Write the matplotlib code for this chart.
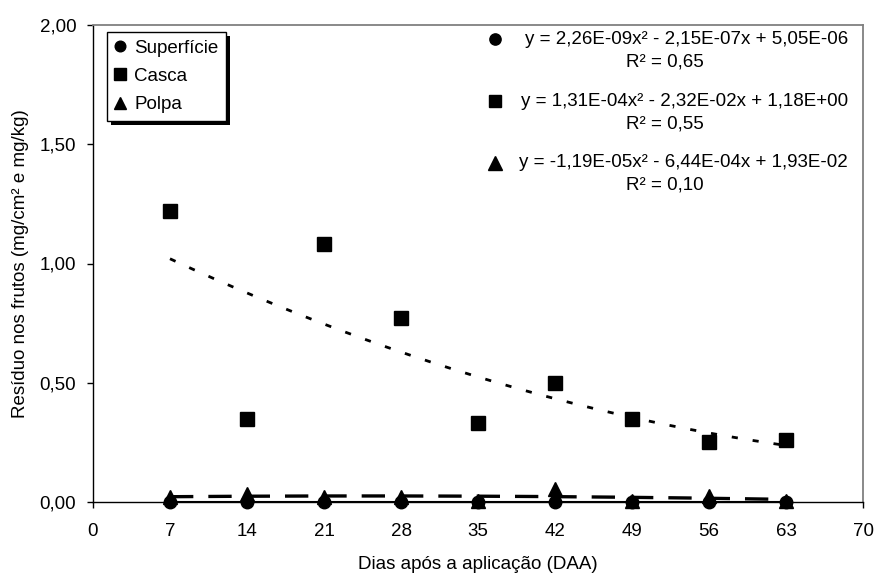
import numpy as np
import matplotlib
matplotlib.use('Agg')
import matplotlib.pyplot as plt
from matplotlib.lines import Line2D
import matplotlib.patheffects as pe

# ---- data ----
dias = [7, 14, 21, 28, 35, 42, 49, 56, 63]
superficie = [0.0, 0.0, 0.0, 0.0, 0.0, 0.0, 0.0, 0.0, 0.0]
casca = [1.22, 0.35, 1.08, 0.77, 0.33, 0.50, 0.35, 0.25, 0.26]
polpa = [0.02, 0.035, 0.02, 0.02, 0.005, 0.055, 0.005, 0.025, 0.005]
series_names = ['Superfície', 'Casca', 'Polpa']
equations = ['y = 2,26E-09x² - 2,15E-07x + 5,05E-06',
             'y = 1,31E-04x² - 2,32E-02x + 1,18E+00',
             'y = -1,19E-05x² - 6,44E-04x + 1,93E-02']
r2_labels = ['R² = 0,65', 'R² = 0,55', 'R² = 0,10']
xticks = [0, 7, 14, 21, 28, 35, 42, 49, 56, 63, 70]
yticks = [0.0, 0.5, 1.0, 1.5, 2.0]
ytick_labels = ['0,00', '0,50', '1,00', '1,50', '2,00']
xlabel = 'Dias após a aplicação (DAA)'
ylabel = 'Resíduo nos frutos (mg/cm² e mg/kg)'

plt.rcParams['font.family'] = ['Liberation Sans', 'DejaVu Sans']
FS = 13.5

W, H = 874, 575
fig = plt.figure(figsize=(W / 100, H / 100), dpi=100)
L, R, T, B = 93, 863, 25, 502
ax = fig.add_axes([L / W, 1 - B / H, (R - L) / W, (B - T) / H])

markers = ['o', 's', '^']
msizes = [9, 10, 10.5]
styles = [dict(ls='-', lw=1.5),
          dict(ls=(0, (2.2, 5.4)), lw=2.0),
          dict(ls=(0, (7, 4.5)), lw=2.4)]
data = [superficie, casca, polpa]

xs = np.array(dias, dtype=float)
xf = np.linspace(xs.min(), xs.max(), 200)
for vals, st in zip(data, styles):
    ys = np.array(vals, dtype=float)
    coef = np.polyfit(xs, ys, 2)
    ax.plot(xf, np.polyval(coef, xf), color='black', zorder=2, **st)
for vals, m, ms in zip(data, markers, msizes):
    ax.plot(dias, vals, linestyle='none', marker=m, markersize=ms,
            color='black', clip_on=False, zorder=3)

ax.set_xlim(0, 70)
ax.set_ylim(0, 2)
ax.set_xticks(xticks)
ax.set_yticks(yticks)
ax.set_yticklabels(ytick_labels)
ax.tick_params(axis='both', direction='out', length=4, width=1,
               labelsize=FS, color='black')
ax.tick_params(axis='x', pad=11)
ax.tick_params(axis='y', pad=8)
for s in ['left', 'bottom']:
    ax.spines[s].set_color('black')
    ax.spines[s].set_linewidth(1)
for s in ['top', 'right']:
    ax.spines[s].set_color('#808080')
    ax.spines[s].set_linewidth(1.3)

ax.set_xlabel(xlabel, fontsize=FS)
ax.xaxis.set_label_coords(0.5, -(556 - B) / (B - T))
ax.set_ylabel(ylabel, fontsize=FS)
ax.yaxis.label.set_va('center')
ax.yaxis.set_label_coords(-(L - 21) / (R - L), 0.5)

# legend 1 (series)
handles = [Line2D([], [], linestyle='none', marker=m, markersize=ms * 0.85, color='black')
           for m, ms in zip(markers, msizes)]
leg1 = ax.legend(handles, series_names, loc='upper left',
                 bbox_to_anchor=((107 - L) / (R - L), 1 - (32 - T) / (B - T)),
                 borderaxespad=0, borderpad=0.4, handlelength=0.6,
                 handletextpad=0.45, labelspacing=0.6, fontsize=FS,
                 fancybox=False, edgecolor='black', framealpha=1, shadow=False)
frame = leg1.get_frame()
frame.set_linewidth(1)
frame.set_path_effects([pe.SimplePatchShadow(offset=(3, -3), shadow_rgbFace='black', alpha=1),
                        pe.Normal()])
ax.add_artist(leg1)

# legend 2 (trend equations): markers + texts
handles2 = [Line2D([], [], linestyle='none', marker=m, markersize=ms * 0.9, color='black')
            for m, ms in zip(markers, msizes)]
leg2 = ax.legend(handles2, [' ', ' ', ' '], loc='upper left',
                 bbox_to_anchor=((485.6 - L) / (R - L), 1 - (32 - T) / (B - T)),
                 borderaxespad=0, borderpad=0, handlelength=1.0,
                 handletextpad=0.2, labelspacing=2.4, fontsize=FS,
                 frameon=False)

eq_y = [40, 102, 163]
r2_y = [62, 124, 185]
for eq, r2, ey, ry in zip(equations, r2_labels, eq_y, r2_y):
    ax.text((848 - L) / (R - L), 1 - (ey - T) / (B - T), eq, transform=ax.transAxes,
            ha='right', va='center', fontsize=FS)
    ax.text((665 - L) / (R - L), 1 - (ry - T) / (B - T), r2, transform=ax.transAxes,
            ha='center', va='center', fontsize=FS)

fig.savefig('out.png', dpi=100)
